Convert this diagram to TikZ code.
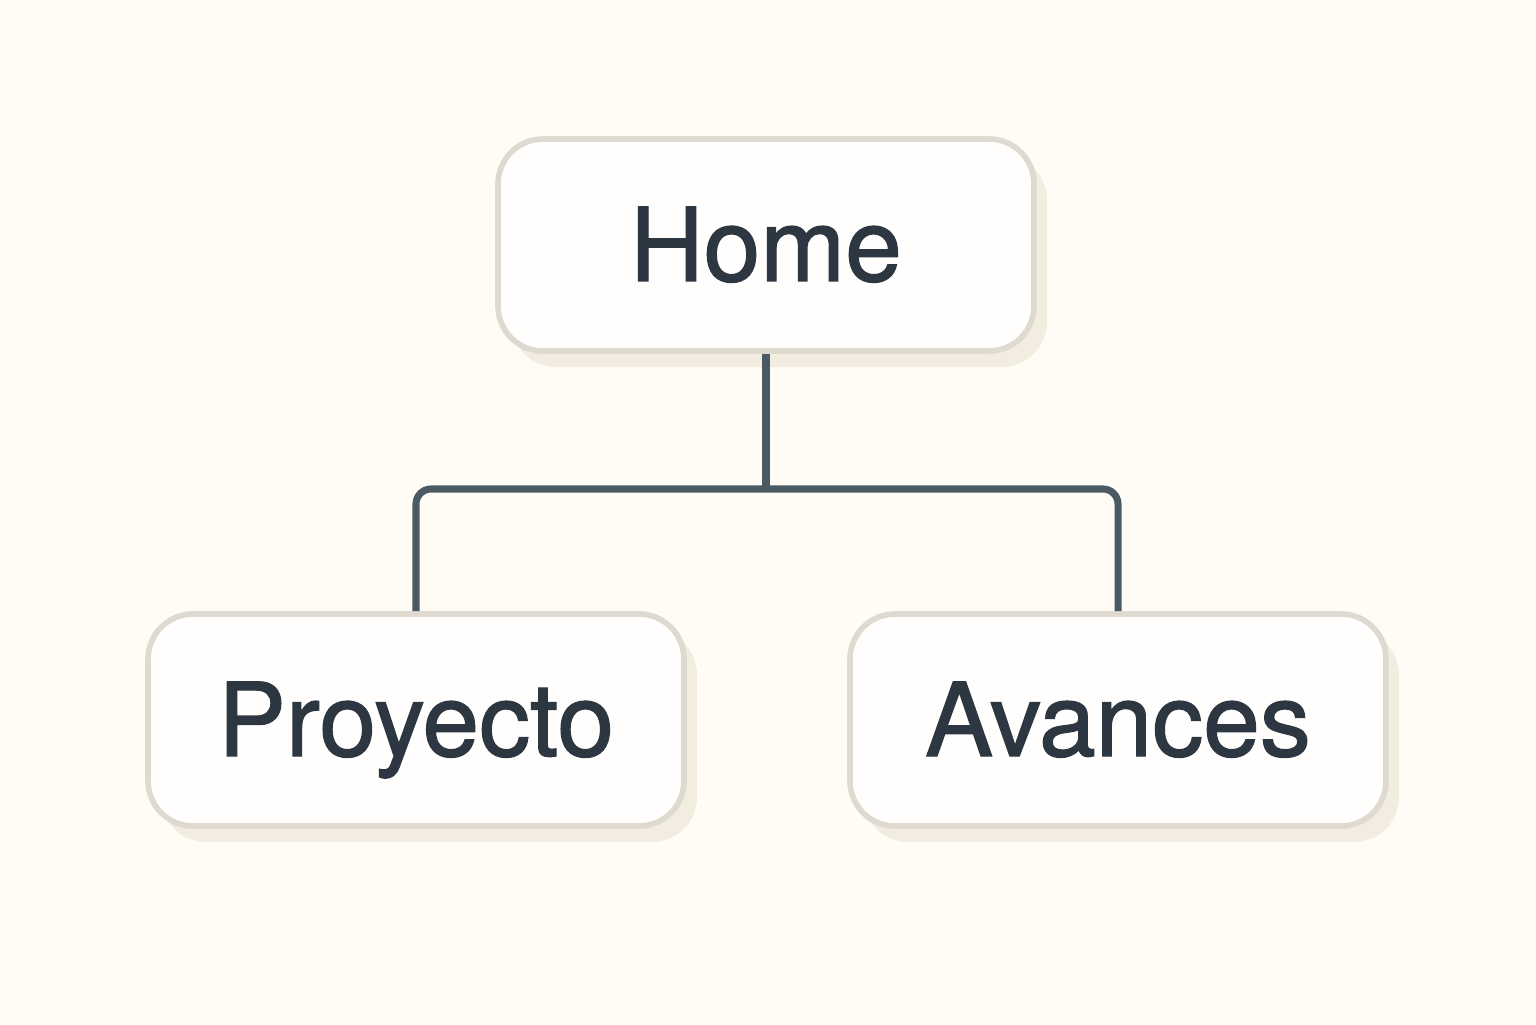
\documentclass[tikz,border=0pt]{standalone}
\usepackage{fontspec}
\setmainfont[FakeBold=1.3]{TeX Gyre Heros}
\usepackage{tikz}
\usetikzlibrary{positioning,calc,shadows}
\definecolor{bgc}{HTML}{FEFCF5}
\definecolor{boxborder}{HTML}{DEDAD0}
\definecolor{boxfill}{HTML}{FFFEFC}
\definecolor{boxshadow}{HTML}{F2EDE0}
\definecolor{linec}{HTML}{4B5A62}
\definecolor{textc}{HTML}{2D3741}
\tikzset{
  page/.style={draw=boxborder,fill=boxfill,line width=1.6pt,rounded corners=0.45cm,
    minimum width=5.36cm,minimum height=2.12cm,text=textc,
    text height=0.72cm,text depth=0cm,
    font=\fontsize{29}{34}\selectfont,
    drop shadow={shadow xshift=0.13cm,shadow yshift=-0.16cm,fill=boxshadow,opacity=1}},
  link/.style={draw=linec,line width=2pt,rounded corners=0.15cm}
}
\begin{document}
\begin{tikzpicture}
      \fill[bgc] (0,0) rectangle (15.36,10.24);
      \useasboundingbox (0,0) rectangle (15.36,10.24);

      % top level
      \node[page] (home) at (7.66,7.79) {Home};

      % second level
      \node[page] (proyecto) at (4.16,3.04) {Proyecto};
      \node[page] (avances) at (11.18,3.04) {Avances};

      \coordinate (bus) at (7.66,5.35);
      \draw[link] (home.south) -- (bus);
      \draw[link] (proyecto.north) |- (bus) -| (avances.north);
    \end{tikzpicture}
\end{document}
